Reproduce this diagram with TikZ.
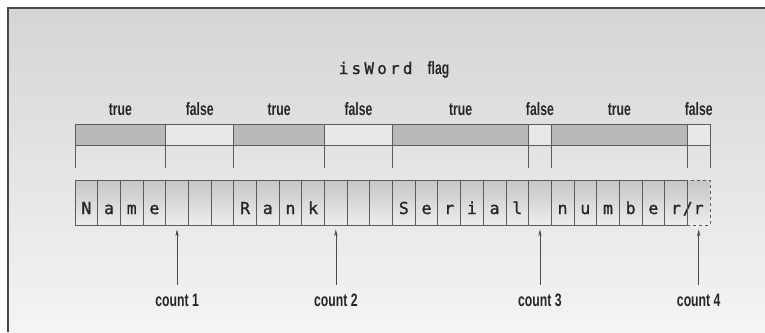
\documentclass[tikz,border=0pt]{standalone}
\usepackage{fontspec}
\setmainfont[FakeStretch=0.68]{Liberation Sans Bold}
\newfontfamily\cellfont[FakeBold=1.2]{DejaVu Sans Mono}
\newfontfamily\flagfont[LetterSpace=20,FakeBold=1.2]{DejaVu Sans Mono}
\usetikzlibrary{arrows.meta}
\definecolor{bgtop}{HTML}{D5D5D5}
\definecolor{bgbot}{HTML}{F4F4F4}
\definecolor{frame}{HTML}{4A4A4A}
\definecolor{linegray}{HTML}{5C5C5C}
\definecolor{flagon}{HTML}{B9B9B9}
\definecolor{flagoff}{HTML}{E8E8E8}
\definecolor{celltop}{HTML}{C6C6C6}
\definecolor{cellbot}{HTML}{EDEDED}

\begin{document}
\begin{tikzpicture}[x=1pt,y=-1pt,
  cell/.style={draw=linegray,line width=0.8pt,top color=celltop,bottom color=cellbot,
    minimum width=22.68pt,inner sep=0pt,text height=34pt,text depth=11pt,
    font=\cellfont\fontsize{16.5}{16.5}\selectfont,text=black!85},
  lab/.style={anchor=base,inner sep=2pt,font=\fontsize{18}{18}\selectfont,text=black!85},
  ptr/.style={-{Stealth[length=7pt,width=3.4pt]},line width=0.6pt,draw=black!70,
    shorten <=7pt,shorten >=4pt}]
\useasboundingbox (0,0) rectangle (765,332);
% 背景与边框
\shade[top color=bgtop,bottom color=bgbot] (8,8) rectangle (765,332);
\draw[frame,line width=1.2pt] (8,332) -- (8,8) -- (765,8);
% 标题
\node[lab] (title) at (394,74) {{\flagfont\fontsize{16}{16}\selectfont isWord}\hspace{15pt}flag};
% isWord 标志条
\foreach \a/\b/\s/\t [count=\k] in {0/4/flagon/true,4/7/flagoff/false,7/11/flagon/true,
    11/14/flagoff/false,14/20/flagon/true,20/21/flagoff/false,21/27/flagon/true,27/28/flagoff/false}{
  \fill[\s] ({75+22.68*\a},124) rectangle ({75+22.68*\b},145);
  \node[lab] (f\k) at ({75+22.68*(\a+\b)/2},115.3) {\t};
}
\draw[linegray,line width=0.8pt] (75,124) -- (710,124) (75,145) -- (710,145);
\foreach \a in {0,4,7,11,14,20,21,27,28}
  \draw[linegray,line width=0.8pt] ({75+22.68*\a},124) -- ({75+22.68*\a},168);
% 字符单元
\foreach \ch [count=\i from 0] in {N,a,m,e,{},{},{},R,a,n,k,{},{},{},S,e,r,i,a,l,{},n,u,m,b,e,r}
  \node[cell] (c\i) at ({75+22.68*(\i+0.5)},202.5) {\ch};
\node[cell,dashed] (c27) at ({75+22.68*27.5},202.5) {\makebox[0pt][r]{/\hspace{1pt}}r};
\draw[linegray,line width=0.8pt] (c26.north east) -- (c26.south east);
% 计数指针
\foreach \n/\i in {1/4,2/11,3/20,4/27}{
  \node[lab] (n\n) at ({75+22.68*(\i+0.5)},306.7) {count \n};
  \draw[ptr] (n\n.north) -- (c\i.south);
}
\end{tikzpicture}
\end{document}
